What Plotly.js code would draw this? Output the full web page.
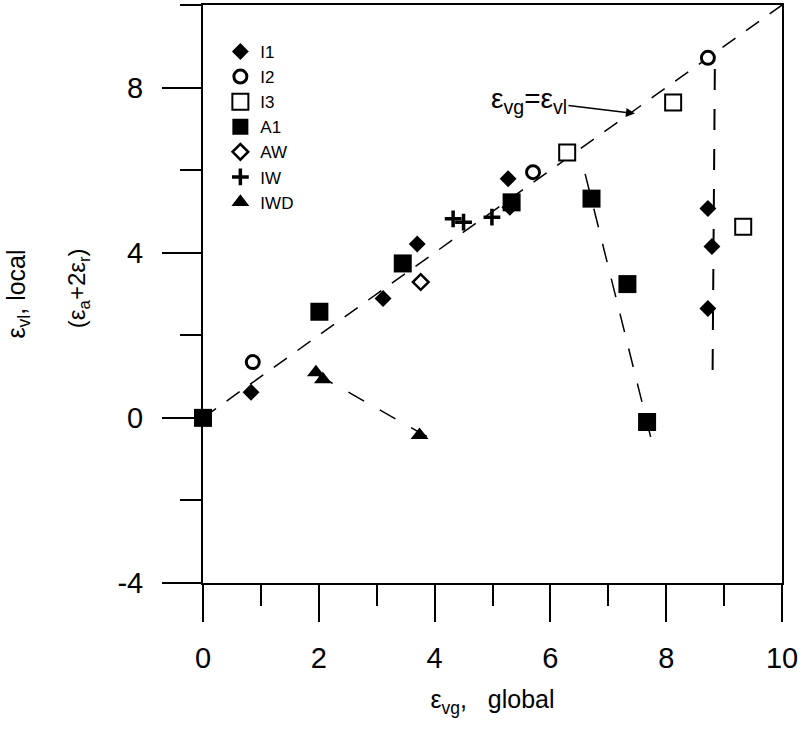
<!DOCTYPE html>
<html>
<head>
<meta charset="utf-8">
<script src="https://cdn.plot.ly/plotly-3.0.1.min.js"></script>
<style>html,body{margin:0;padding:0;background:#fff;}#chart{width:803px;height:731px;}</style>
</head>
<body>
<div id="chart"></div>
<script>
// ---- data ----
const i1X = [0.83, 3.11, 3.70, 5.27, 5.30, 8.72, 8.79, 8.72];
const i1Y = [0.62, 2.89, 4.21, 5.79, 5.10, 5.07, 4.15, 2.65];
const i2X = [0.86, 5.70, 8.72];
const i2Y = [1.35, 5.95, 8.72];
const i3X = [6.29, 8.12, 9.33];
const i3Y = [6.43, 7.64, 4.63];
const a1X = [0.00, 2.01, 3.45, 5.33, 6.71, 7.33, 7.67];
const a1Y = [0.00, 2.57, 3.74, 5.22, 5.31, 3.24, -0.10];
const awX = [3.76];
const awY = [3.29];
const iwX = [4.32, 4.50, 4.99];
const iwY = [4.82, 4.74, 4.86];
const iwdX = [1.95, 2.07, 3.74];
const iwdY = [1.10, 0.93, -0.42];

// dashed guide / trend lines (end points)
const identityX = [0, 10], identityY = [0, 10];
const a1FitX = [6.60, 7.79], a1FitY = [5.91, -0.79];
const iwdFitX = [1.97, 4.09], iwdFitY = [1.05, -0.63];
const i1FitX = [8.84, 8.80], i1FitY = [8.45, 0.90];

const xTicks = [0, 2, 4, 6, 8, 10];
const yTicks = [-4, 0, 4, 8];

const FONT = 'Arial, "Liberation Sans", sans-serif';

function lineTrace(x, y, dash, w) {
  return {x: x, y: y, mode: 'lines', showlegend: false, hoverinfo: 'skip',
          line: {color: 'black', width: w, dash: dash}};
}
function markTrace(name, x, y, marker) {
  return {x: x, y: y, name: name, mode: 'markers', marker: marker, cliponaxis: false};
}

const traces = [
  lineTrace(identityX, identityY, '16px,13px', 1.5),
  lineTrace(a1FitX, a1FitY, '19px,17px', 1.5),
  lineTrace(iwdFitX, iwdFitY, '18px,18px', 1.5),
  lineTrace(i1FitX, i1FitY, '21px,19px', 2),
  markTrace('I1', i1X, i1Y, {symbol: 'diamond', size: 13, color: 'black', line: {width: 0}}),
  markTrace('I2', i2X, i2Y, {symbol: 'circle', size: 13, color: 'white', line: {width: 3, color: 'black'}}),
  markTrace('I3', i3X, i3Y, {symbol: 'square', size: 16, color: 'white', line: {width: 2, color: 'black'}}),
  markTrace('A1', a1X, a1Y, {symbol: 'square', size: 18, color: 'black', line: {width: 0}}),
  markTrace('AW', awX, awY, {symbol: 'diamond', size: 12, color: 'white', line: {width: 2.5, color: 'black'}}),
  markTrace('IW', iwX, iwY, {symbol: 'cross-thin', size: 12, color: 'black', line: {width: 3.5, color: 'black'}}),
  markTrace('IWD', iwdX, iwdY, {symbol: 'triangle-up', size: 15.5, color: 'black', line: {width: 0}})
];

const axisCommon = {
  showline: true, linewidth: 2, linecolor: 'black', mirror: true,
  showgrid: false, zeroline: false, ticks: 'outside', tickwidth: 2, tickcolor: 'black',
  tickfont: {family: FONT, size: 29, color: 'black'}
};

const layout = {
  width: 803, height: 731,
  margin: {l: 203, r: 21, t: 5, b: 148, pad: 0},
  paper_bgcolor: 'white', plot_bgcolor: 'white',
  font: {family: FONT, color: 'black'},
  showlegend: true,
  legend: {x: 0.03, y: 0.95, xanchor: 'left', yanchor: 'top', bgcolor: 'rgba(0,0,0,0)',
           borderwidth: 0, font: {family: FONT, size: 17, color: 'black'}, itemwidth: 30},
  xaxis: Object.assign({}, axisCommon, {
    range: [0, 10], tickmode: 'array', tickvals: xTicks, ticktext: xTicks.map(String),
    ticklen: 37, ticklabelstandoff: 11,
    minor: {tick0: 0, dtick: 1, ticks: 'outside', ticklen: 21, tickwidth: 2, tickcolor: 'black', showgrid: false},
    title: {text: 'ε<sub>vg</sub>,   global', font: {family: FONT, size: 25, color: 'black'}, standoff: 18}
  }),
  yaxis: Object.assign({}, axisCommon, {
    range: [-4, 10], tickmode: 'array', tickvals: yTicks, ticktext: yTicks.map(String),
    ticklen: 39, ticklabelstandoff: 13,
    minor: {tick0: 0, dtick: 2, ticks: 'outside', ticklen: 21, tickwidth: 2, tickcolor: 'black', showgrid: false},
    title: {text: 'ε<sub>vl</sub>, local', font: {family: FONT, size: 25, color: 'black'}, standoff: 85}
  }),
  annotations: [{
    x: 7.46, y: 7.37, xref: 'x', yref: 'y',
    text: 'ε<sub>vg</sub>=ε<sub>vl</sub>',
    showarrow: true, arrowhead: 2, arrowsize: 1.2, arrowwidth: 1.5, arrowcolor: 'black',
    ax: -106, ay: -13, font: {family: FONT, size: 28, color: 'black'}
  }, {
    xref: 'paper', yref: 'paper', x: -0.216, y: 0.51, xanchor: 'center', yanchor: 'middle',
    text: '(ε<sub>a</sub>+2ε<sub>r</sub>)', textangle: -90, showarrow: false,
    font: {family: FONT, size: 24, color: 'black'}
  }]
};

Plotly.newPlot('chart', traces, layout, {displayModeBar: false, staticPlot: true});
</script>
</body>
</html>
